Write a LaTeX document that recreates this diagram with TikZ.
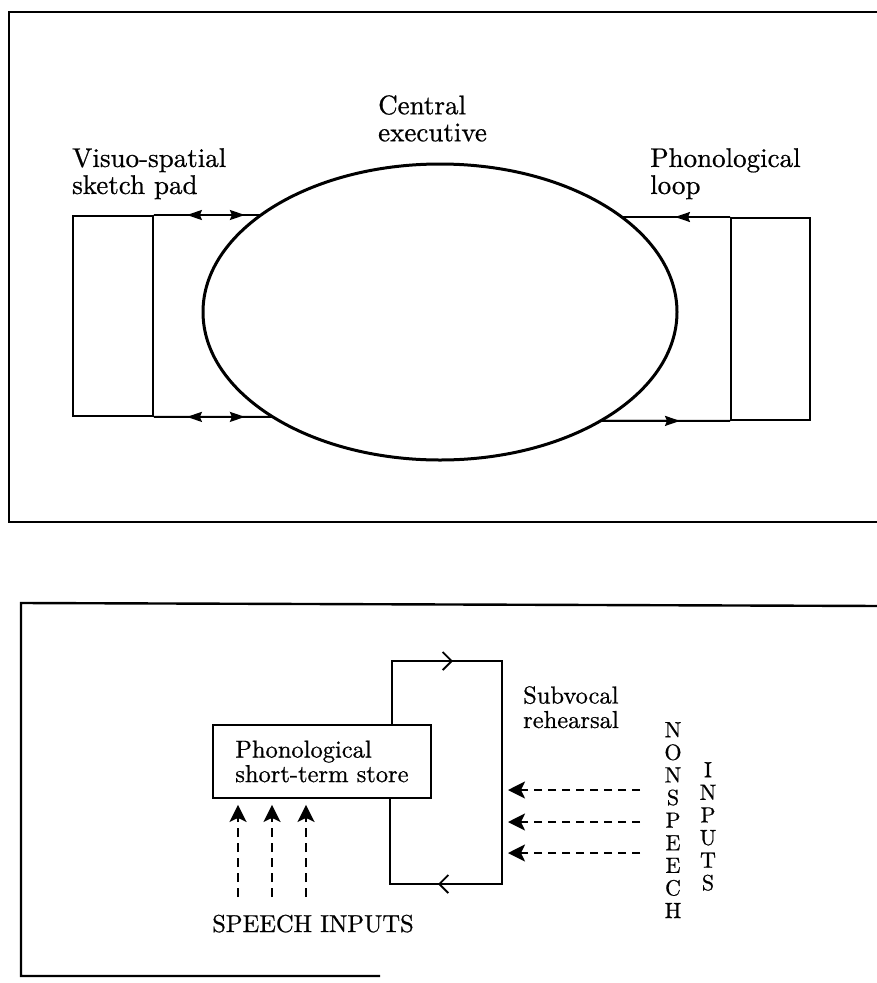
\documentclass[tikz,border=0pt]{standalone}
\usepackage{fontspec}
\setmainfont{lmroman10-regular.otf}[FakeBold=0.7]
\usetikzlibrary{arrows.meta,shapes.geometric,intersections}
\begin{document}
\begin{tikzpicture}[x=1pt,y=-1pt,line join=miter,
  frame/.style={line width=2.4pt},
  rule/.style={line width=1.9pt},
  bighead/.tip={Stealth[length=15pt,width=10pt,inset=2pt]},
  toptext/.style={font=\fontsize{27}{27}\selectfont,inner sep=0pt,align=left,anchor=north west},
  lowtext/.style={font=\fontsize{24.5}{24.5}\selectfont,inner sep=0pt,align=left},
  letters/.style={font=\fontsize{22}{22.6}\selectfont,inner sep=0pt,align=center,anchor=north},
  dasharrow/.style={line width=2.2pt,dash pattern=on 8pt off 6pt,-{Stealth[length=17pt,width=17pt,inset=4pt]}},
  barb/.style={-{Straight Barb[length=9pt,width=18pt,line width=1.9pt]}}]
\useasboundingbox (0,0) rectangle (877,983);

% ---------------- working memory model ----------------
\draw[frame] (882,12) -- (9,12) -- (9,522) -- (882,522);

\node[draw,ellipse,line width=3pt,minimum width=474pt,minimum height=296pt,
      inner sep=0pt,name path=ell] (ce) at (440,312) {};

\node[draw,rule,anchor=north west,minimum width=80pt,minimum height=200pt,inner sep=0pt]
  (sp) at (72,215) {};
\node[draw,rule,anchor=north west,minimum width=79pt,minimum height=202pt,inner sep=0pt]
  (pl) at (730,217) {};

\node[toptext] (ceLabel) at (378,95) {Central\\executive};
\node[toptext] (spLabel) at (72,148) {Visuo-spatial\\sketch pad};
\node[toptext] (plLabel) at (650,148) {Phonological\\loop};

% links between the slave systems and the central executive
\path[name path=spT] (sp.north east) -- ++(250,0);
\path[name path=spB] (sp.south east) -- ++(250,0);
\path[name path=plT] (pl.north west) -- ++(-250,0);
\path[name path=plB] (pl.south west) -- ++(-250,0);
\path[name intersections={of=ell and spT,by=spTx}];
\path[name intersections={of=ell and spB,by=spBx}];
\path[name intersections={of=ell and plT,by=plTx}];
\path[name intersections={of=ell and plB,by=plBx}];

\draw[rule] (sp.north east) -- (spTx);
\draw[rule] (sp.south east) -- (spBx);
\draw[rule,bighead-bighead] ([xshift=33pt]sp.north east) -- ([xshift=91pt]sp.north east);
\draw[rule,bighead-bighead] ([xshift=33pt]sp.south east) -- ([xshift=91pt]sp.south east);

\draw[rule] (pl.north west) -- (plTx);
\draw[rule] (pl.south west) -- (plBx);
\draw[rule,-bighead] (pl.north west) -- ([xshift=-55pt]pl.north west);
\draw[rule,-bighead] (plBx) -- ([xshift=-50pt]pl.south west);

% ---------------- phonological loop ----------------
\draw[frame] (882,606) -- (21,603) -- (21,976) -- (380,976);

\node[draw,rule,lowtext,anchor=north west,minimum width=218pt,minimum height=73pt]
  (sts) at (212,724) {Phonological\\short-term store};

\coordinate (r1) at (392,661);
\coordinate (r2) at (502,661);
\coordinate (r3) at (502,884);
\coordinate (r4) at (390,884);
\draw[rule] (sts.north -| r1) -- (r1) -- (r2) -- (r3) -- (r4) -- (sts.south -| r4);
\draw[rule,barb] (r1) -- (453,661);
\draw[rule,barb] (r3) -- (438,884);

\node[lowtext,anchor=north west] (svr) at (523,686) {Subvocal\\rehearsal};

% non-speech inputs
\coordinate (n1) at (640,790);
\coordinate (n2) at (640,822);
\coordinate (n3) at (640,853);
\draw[dasharrow] (n1) -- ([xshift=6pt]r3 |- n1);
\draw[dasharrow] (n2) -- ([xshift=6pt]r3 |- n2);
\draw[dasharrow] (n3) -- ([xshift=6pt]r3 |- n3);

\node[letters] (nsp) at (673,722) {N\\O\\N\\S\\P\\E\\E\\C\\H};
\node[letters] (inp) at (708,762) {I\\N\\P\\U\\T\\S};

% speech inputs
\coordinate (s1) at (238,897);
\coordinate (s2) at (272,897);
\coordinate (s3) at (306,897);
\draw[dasharrow,dash pattern=on 9pt off 6pt] (s1) -- ([yshift=-6pt]sts.south -| s1);
\draw[dasharrow,dash pattern=on 9pt off 6pt] (s2) -- ([yshift=-6pt]sts.south -| s2);
\draw[dasharrow,dash pattern=on 9pt off 6pt] (s3) -- ([yshift=-6pt]sts.south -| s3);

\node[lowtext,anchor=base] (spl) at (313,932) {SPEECH INPUTS};
\end{tikzpicture}
\end{document}
